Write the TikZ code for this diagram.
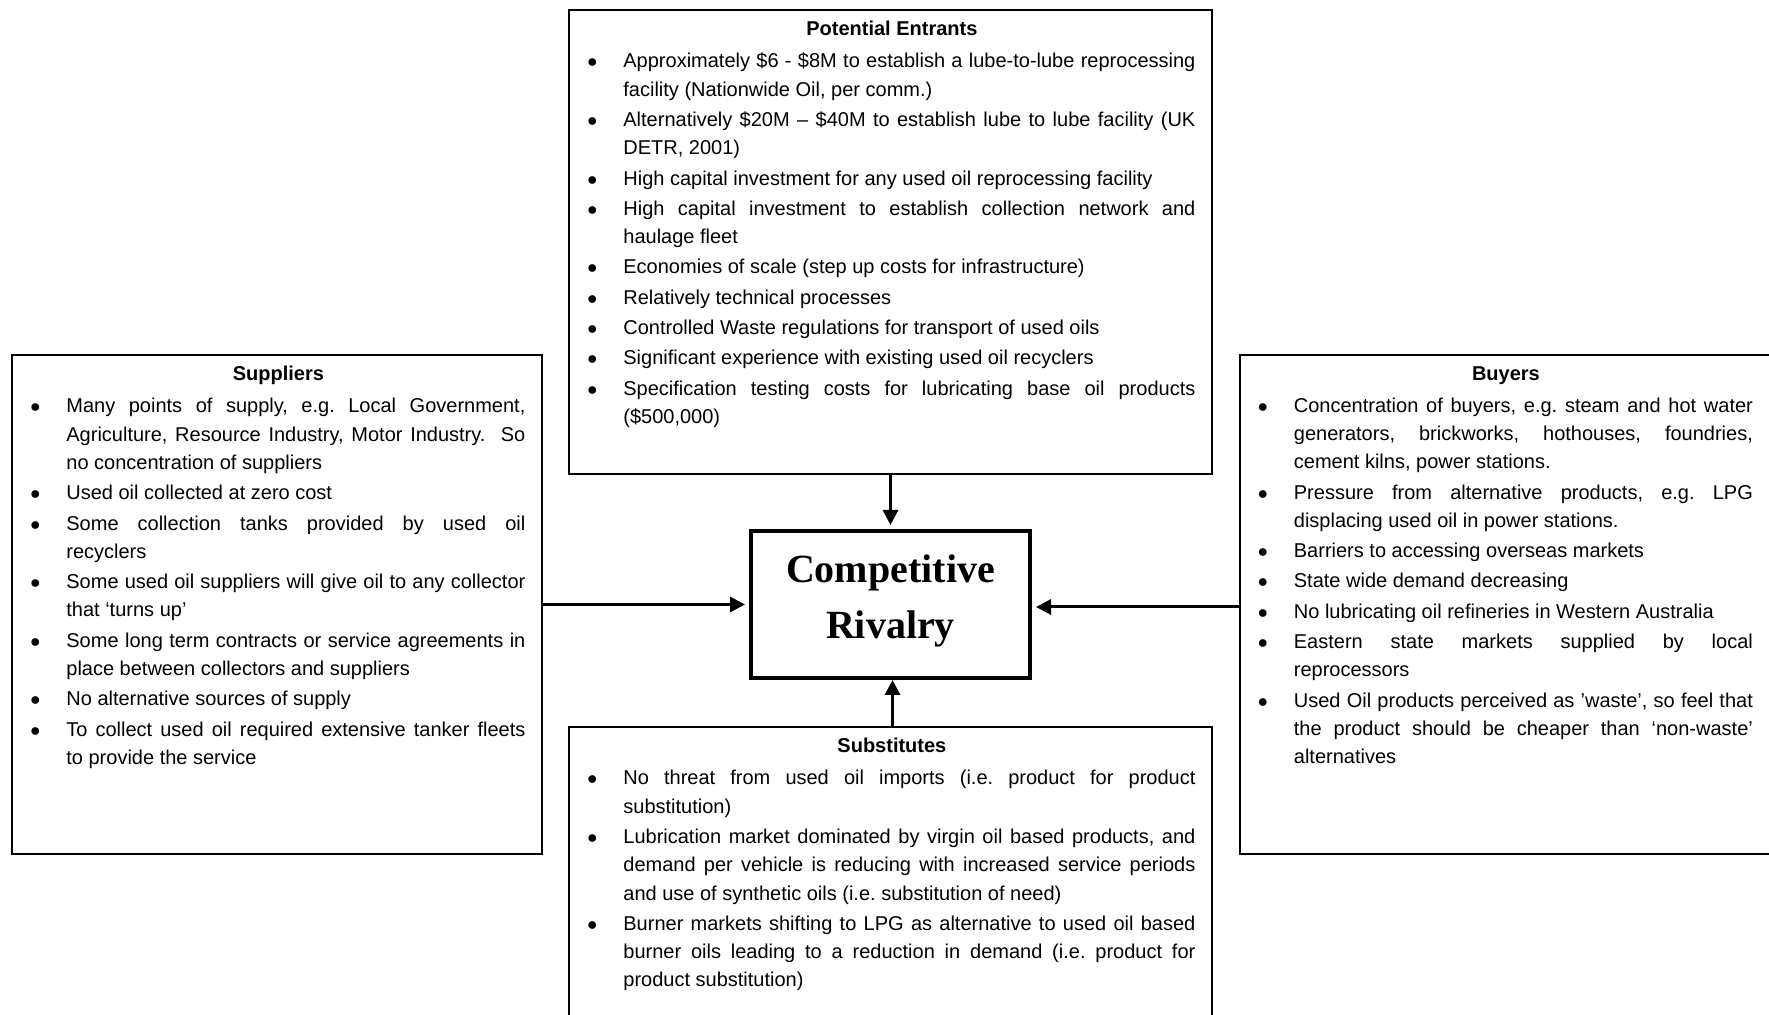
\documentclass[tikz,border=0pt]{standalone}
\usepackage{fontspec}
\setmainfont{Liberation Sans}
\newfontfamily\rivalryfont{Liberation Serif}
\usepackage{enumitem}
\usetikzlibrary{arrows.meta}
\hyphenpenalty=10000
\exhyphenpenalty=10000
\setlength{\parindent}{0pt}
\frenchspacing
\setlist[itemize]{label=$\bullet$,leftmargin=17.5pt,labelsep=13pt,labelwidth=4.5pt,labelindent=0pt,itemindent=0pt,topsep=1.85pt,partopsep=0pt,parsep=0pt,itemsep=1pt}
\newcommand{\boxhead}[1]{{\centering\bfseries #1\par}}

\begin{document}
\begin{tikzpicture}[x=0.5pt,y=-0.5pt,
    forcebox/.style={draw,line width=1pt,inner sep=0pt},
    forcetext/.style={anchor=north west,inner sep=0pt,align=justify,font=\fontsize{10}{14.15}\selectfont},
    push/.style={line width=1.5pt,-{Triangle[length=7.5pt,width=7.5pt]},shorten >=2pt}]
\useasboundingbox (0,0) rectangle (1769,1015);
\clip (0,0) rectangle (1769,1015);

% the five boxes
\node[forcebox,minimum width=321.5pt,minimum height=232pt] (entrants) at (890.5,242) {};
\node[forcebox,minimum width=265pt,minimum height=249.5pt] (suppliers) at (277,604.5) {};
\node[forcebox,minimum width=265pt,minimum height=249.5pt] (buyers) at (1504.5,604.5) {};
\node[forcebox,minimum width=321.5pt,minimum height=158.5pt] (substitutes) at (890.5,885.5) {};
\node[draw,line width=2pt,minimum width=139.5pt,minimum height=73.5pt] (rivalry) at (890.5,604.5) {};
\node[align=center,font=\rivalryfont\bfseries\fontsize{20}{28}\selectfont] (rivalrytext) at ([yshift=2pt]rivalry.center) {Competitive\\Rivalry};

% box texts
\node[forcetext,text width=303.5pt] (entrantslist) at ([xshift=10pt,yshift=-6pt]entrants.north west) {\boxhead{Potential Entrants}
\begin{itemize}
\item Approximately \$6 - \$8M to establish a lube-to-lube reprocessing\linebreak facility (Nationwide Oil, per comm.)
\item Alternatively \$20M – \$40M to establish lube to lube facility (UK\linebreak DETR, 2001)
\item High capital investment for any used oil reprocessing facility
\item High capital investment to establish collection network and\linebreak haulage fleet
\item Economies of scale (step up costs for infrastructure)
\item Relatively technical processes
\item Controlled Waste regulations for transport of used oils
\item Significant experience with existing used oil recyclers
\item Specification testing costs for lubricating base oil products\linebreak (\$500,000)
\end{itemize}};

\node[forcetext,text width=247pt] (supplierslist) at ([xshift=10pt,yshift=-6pt]suppliers.north west) {\boxhead{Suppliers}
\begin{itemize}
\item Many points of supply, e.g. Local Government,\linebreak Agriculture, Resource Industry, Motor Industry.\ \ So\linebreak no concentration of suppliers
\item Used oil collected at zero cost
\item Some collection tanks provided by used oil\linebreak recyclers
\item Some used oil suppliers will give oil to any collector\linebreak that ‘turns up’
\item Some long term contracts or service agreements in\linebreak place between collectors and suppliers
\item No alternative sources of supply
\item To collect used oil required extensive tanker fleets\linebreak to provide the service
\end{itemize}};

\node[forcetext,text width=247pt] (buyerslist) at ([xshift=10pt,yshift=-6pt]buyers.north west) {\boxhead{Buyers}
\begin{itemize}
\item Concentration of buyers, e.g. steam and hot water\linebreak generators, brickworks, hothouses, foundries,\linebreak cement kilns, power stations.
\item Pressure from alternative products, e.g. LPG\linebreak displacing used oil in power stations.
\item Barriers to accessing overseas markets
\item State wide demand decreasing
\item No lubricating oil refineries in Western Australia
\item Eastern state markets supplied by local\linebreak reprocessors
\item Used Oil products perceived as ’waste’, so feel that\linebreak the product should be cheaper than ‘non-waste’\linebreak alternatives
\end{itemize}};

\node[forcetext,text width=303.5pt] (substituteslist) at ([xshift=10pt,yshift=-6pt]substitutes.north west) {\boxhead{Substitutes}
\begin{itemize}
\item No threat from used oil imports (i.e. product for product\linebreak substitution)
\item Lubrication market dominated by virgin oil based products, and\linebreak demand per vehicle is reducing with increased service periods\linebreak and use of synthetic oils (i.e. substitution of need)
\item Burner markets shifting to LPG as alternative to used oil based\linebreak burner oils leading to a reduction in demand (i.e. product for\linebreak product substitution)
\end{itemize}};

% forces acting on the rivalry
\draw[push] (entrants) -- (rivalry);
\draw[push] (suppliers) -- (rivalry);
\draw[push] ([yshift=-1.25pt]buyers.west) -- ([yshift=-1.25pt]rivalry.east);
\draw[push,shorten >=0pt] ([xshift=1pt]substitutes.north) -- ([xshift=1pt]rivalry.south);
\end{tikzpicture}
\end{document}
